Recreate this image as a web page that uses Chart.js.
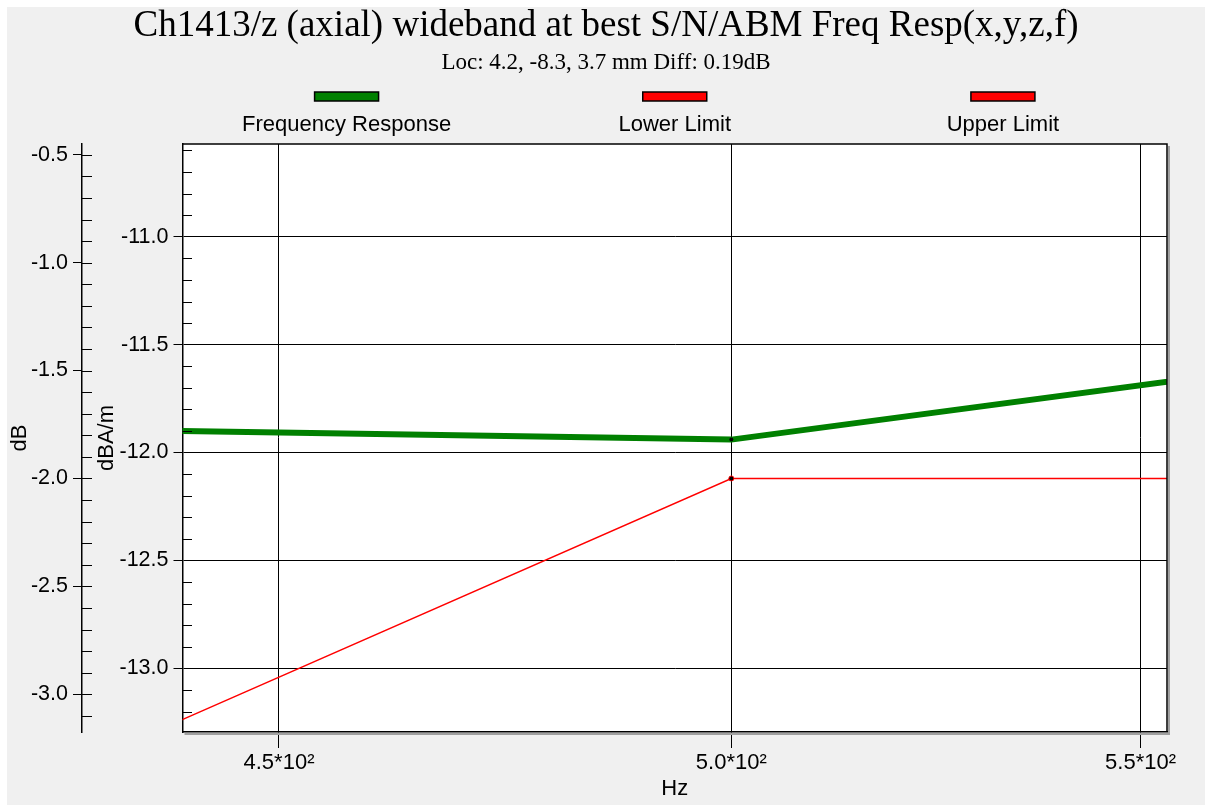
<!DOCTYPE html>
<html>
<head>
<meta charset="utf-8">
<title>Ch1413/z Freq Resp</title>
<script src="https://cdn.jsdelivr.net/npm/chart.js@4.4.1/dist/chart.umd.min.js"></script>
<style>
  body { margin: 0; background: #fff; width: 1205px; height: 805px; overflow: hidden; }
  #myChart { position: absolute; left: 7px; top: 7px; }
</style>
</head>
<body>
<canvas id="myChart" width="1198" height="798"></canvas>
<script>
// values (dBA/m), Hz on a log axis
const freqs = [400, 500, 630]
const freqResponse = [-11.87, -11.94, -11.33]
const lowerLimit = [-14.07, -12.12, -12.12]
const upperLimit = [-10.12, -10.12, -10.12]

const xTicks = [450, 500, 550]
const xTickLabels = ['4.5*10²', '5.0*10²', '5.5*10²']

const sans = '"Liberation Sans", Arial, sans-serif'
const serif = '"Liberation Serif", "Times New Roman", serif'

Chart.defaults.font.family = sans
Chart.defaults.color = '#000'

const toPoints = ys => freqs.map((f, i) => ({x: f, y: ys[i]}))

const data = {
  datasets: [{
    label: 'Frequency Response',
    data: toPoints(freqResponse),
    borderColor: '#008000',
    backgroundColor: '#008000',
    borderWidth: 6,
    pointRadius: 2,
    pointBackgroundColor: '#000',
    pointBorderColor: '#000',
    pointBorderWidth: 0,
    clip: 0
  }, {
    label: 'Lower Limit',
    data: toPoints(lowerLimit),
    borderColor: '#ff0000',
    backgroundColor: '#ff0000',
    borderWidth: 1.5,
    pointRadius: 2.5,
    pointBackgroundColor: '#000',
    pointBorderColor: '#ff0000',
    pointBorderWidth: 1,
    clip: 0
  }, {
    label: 'Upper Limit',
    data: toPoints(upperLimit),
    borderColor: '#ff0000',
    backgroundColor: '#ff0000',
    borderWidth: 1.5,
    pointRadius: 2.5,
    pointBackgroundColor: '#000',
    pointBorderColor: '#ff0000',
    pointBorderWidth: 1,
    clip: 0
  }]
}

// grey page, white plot, frame with shadow on right/bottom
const plotFrame = {
  id: 'plotFrame',
  beforeDraw(chart) {
    const {ctx, chartArea: a, width, height} = chart
    ctx.save()
    ctx.fillStyle = '#f0f0f0'
    ctx.fillRect(0, 0, width, height)
    ctx.fillStyle = '#fff'
    ctx.fillRect(a.left, a.top, a.right - a.left, a.bottom - a.top)
    ctx.restore()
  },
  afterDraw(chart) {
    const {ctx, chartArea: a} = chart
    ctx.save()
    ctx.strokeStyle = '#a0a0a0'
    ctx.lineWidth = 2
    ctx.beginPath()
    ctx.moveTo(a.left + 2, a.bottom + 2)
    ctx.lineTo(a.right + 2, a.bottom + 2)
    ctx.lineTo(a.right + 2, a.top + 2)
    ctx.stroke()
    ctx.strokeStyle = '#000'
    ctx.lineWidth = 1.5
    ctx.beginPath()
    ctx.moveTo(a.left, a.top)
    ctx.lineTo(a.right, a.top)
    ctx.lineTo(a.right, a.bottom)
    ctx.stroke()
    ctx.restore()
  }
}

// 0.1 minor ticks: inside the plot for dBA/m, right of the line for dB
const minorTicks = {
  id: 'minorTicks',
  afterDraw(chart) {
    const ctx = chart.ctx
    const inner = chart.scales.y
    const outer = chart.scales.yDB
    ctx.save()
    ctx.strokeStyle = '#000'
    ctx.lineWidth = 1
    ctx.beginPath()
    for (let v = Math.ceil(inner.min * 10); v <= inner.max * 10; v++) {
      if (v % 5 === 0) continue
      const y = Math.round(inner.getPixelForValue(v / 10)) + 0.5
      ctx.moveTo(inner.right, y)
      ctx.lineTo(inner.right + 9.5, y)
    }
    for (let v = Math.ceil(outer.min * 10); v <= outer.max * 10; v++) {
      const y = Math.round(outer.getPixelForValue(v / 10)) + 0.5
      ctx.moveTo(outer.right, y)
      ctx.lineTo(outer.right + 10, y)
    }
    ctx.stroke()
    ctx.restore()
  }
}

// legend: swatch above each label, items spread across the plot width
const legendBoxes = {
  id: 'legendBoxes',
  afterDraw(chart) {
    const {ctx, chartArea: a} = chart
    const sets = chart.data.datasets
    const slot = (a.right - a.left) / sets.length
    ctx.save()
    ctx.font = '22px ' + sans
    ctx.textAlign = 'center'
    ctx.textBaseline = 'middle'
    sets.forEach((ds, i) => {
      const cx = a.left + slot * (i + 0.5)
      ctx.fillStyle = ds.borderColor
      ctx.fillRect(cx - 32, a.top - 52, 64, 9)
      ctx.strokeStyle = '#000'
      ctx.lineWidth = 1.5
      ctx.strokeRect(cx - 32, a.top - 52, 64, 9)
      ctx.fillStyle = '#000'
      ctx.fillText(ds.label, cx, a.top - 19)
    })
    ctx.restore()
  }
}

const config = {
  type: 'line',
  data: data,
  options: {
    responsive: false,
    animation: false,
    layout: { padding: 0 },
    plugins: {
      legend: { display: false },
      tooltip: { enabled: false },
      title: {
        display: true,
        text: 'Ch1413/z (axial) wideband at best S/N/ABM Freq Resp(x,y,z,f)',
        color: '#000',
        font: { family: serif, size: 37, weight: 'normal', lineHeight: 1 },
        padding: { top: 1, bottom: 0 }
      },
      subtitle: {
        display: true,
        text: 'Loc: 4.2, -8.3, 3.7 mm Diff: 0.19dB',
        color: '#000',
        font: { family: serif, size: 23, lineHeight: 1.2 },
        padding: { top: 4.6, bottom: 66.8 }
      }
    },
    scales: {
      x: {
        type: 'logarithmic',
        min: 440,
        max: 553.4,
        z: 1,
        afterBuildTicks: s => { s.ticks = xTicks.map(v => ({value: v})) },
        afterFit: s => { s.height = 73 },
        grid: { color: '#000', lineWidth: 1, tickLength: 16 },
        border: { color: '#000', width: 1.5 },
        ticks: {
          font: { size: 22 },
          padding: 2,
          maxRotation: 0,
          autoSkip: false,
          callback: (v, i) => xTickLabels[i]
        },
        title: { display: true, text: 'Hz', font: { size: 22 }, padding: { top: 0, bottom: 3 } }
      },
      y: {
        position: 'left',
        weight: 0,
        min: -13.295,
        max: -10.57,
        z: 1,
        afterFit: s => { s.width = 100.5 },
        grid: { color: '#000', lineWidth: 1, tickLength: 9 },
        border: { color: '#000', width: 1.5 },
        ticks: {
          stepSize: 0.5,
          includeBounds: false,
          padding: 5,
          font: { size: 21.5 },
          callback: v => v.toFixed(1)
        },
        title: { display: true, text: 'dBA/m', font: { size: 22 }, padding: { top: 12, bottom: 0 } }
      },
      yDB: {
        position: 'left',
        weight: 1,
        min: -3.175,
        max: -0.45,
        afterFit: s => { s.width = 75 },
        grid: { drawOnChartArea: false, color: '#000', tickLength: 9 },
        border: { color: '#000', width: 1.5 },
        ticks: {
          stepSize: 0.5,
          includeBounds: false,
          padding: 5,
          font: { size: 21.5 },
          callback: v => v.toFixed(1)
        },
        title: { display: true, text: 'dB', font: { size: 22 }, padding: 0 }
      },
      // empty strip on the right so the titles stay centred on the page
      spacer: {
        position: 'right',
        min: 0,
        max: 1,
        afterFit: s => { s.width = 38 },
        grid: { display: false },
        border: { display: false },
        ticks: { display: false }
      }
    }
  },
  plugins: [plotFrame, minorTicks, legendBoxes]
}

const myChart = new Chart(
  document.getElementById('myChart'),
  config
)
</script>
</body>
</html>
